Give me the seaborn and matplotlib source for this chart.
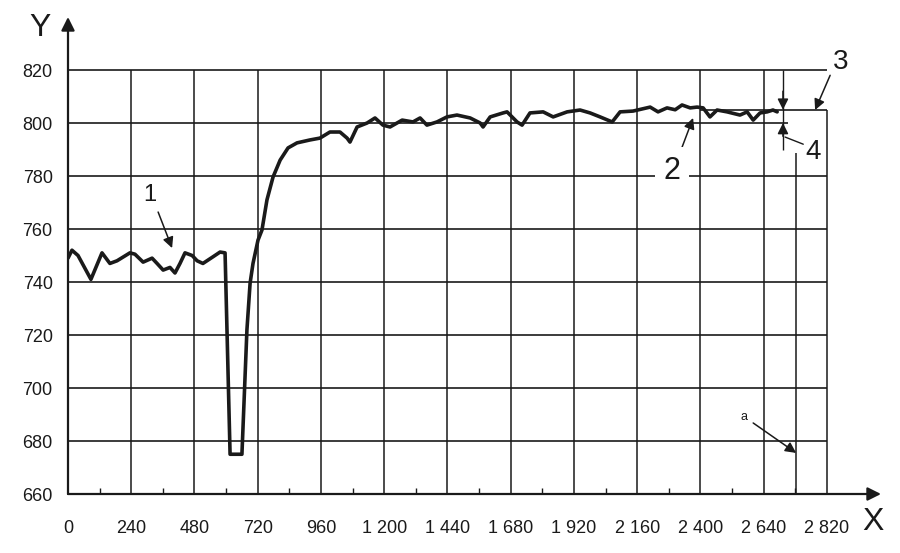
import numpy as np
import pandas as pd
import seaborn as sns
import matplotlib.pyplot as plt

# curve
x_vals = [0, 15, 38, 87, 129, 159, 186, 235, 254, 285, 319, 338, 361, 387, 406, 425,
          444, 471, 490, 512, 550, 577, 596,
          615, 660, 679, 691, 702, 721, 736, 755, 778, 805, 835, 869, 918, 956, 994,
          1032, 1059, 1070, 1097, 1135, 1165, 1195, 1222, 1268, 1309, 1336, 1362,
          1400, 1438, 1476, 1526, 1564, 1575, 1602, 1651, 1666, 1704, 1723, 1753,
          1803, 1841, 1894, 1943, 1981, 2019, 2065, 2095, 2144, 2209, 2239, 2273,
          2304, 2330, 2361, 2387, 2410, 2436, 2463, 2501, 2550, 2577, 2600, 2626,
          2653, 2675, 2691]
y_vals = [749, 752, 750, 741, 751, 747, 748, 751, 750.5, 747.5, 749, 747, 744.5,
          745.5, 743.4, 747, 751, 750, 748, 747, 749.5, 751.3, 751,
          675, 675, 722, 739.6, 747, 755.8, 759.6, 771, 779.6, 786, 790.6, 792.5,
          793.6, 794.3, 796.6, 796.6, 794.3, 792.8, 798.5, 800, 801.9, 799.2, 798.5,
          801.1, 800.4, 801.9, 799.2, 800.4, 802.3, 803, 801.9, 800, 798.5, 802.3,
          803.8, 804.2, 800.4, 799.2, 803.8, 804.2, 802.3, 804.2, 804.9, 803.8,
          802.3, 800.4, 804.2, 804.5, 806, 804.2, 805.7, 805, 806.8, 805.7, 806,
          805.7, 802.3, 804.9, 804.2, 803, 804.2, 801.1, 803.8, 804.2, 804.9, 804.2]

x_tick_pos = [0, 240, 480, 720, 960, 1200, 1440, 1680, 1920, 2160, 2400, 2640, 2880]
x_tick_labels = ["0", "240", "480", "720", "960", "1 200", "1 440", "1 680", "1 920",
                 "2 160", "2 400", "2 640", "2 820"]
y_ticks = [660, 680, 700, 720, 740, 760, 780, 800, 820]

line3_level = 805
a_line_x = 2763
dim_x = 2713

df = pd.DataFrame({"x": x_vals, "y": y_vals})

sns.set_theme(style="white")
plt.rcParams["font.family"] = ["Liberation Sans", "DejaVu Sans"]
ink = "#1a1a1a"

fig = plt.figure(figsize=(9, 5.53), dpi=100)
ax = fig.add_axes([68 / 900, 59 / 553, 813 / 900, 477 / 553])
ax.set_xlim(0, 3085)
ax.set_ylim(660, 840)

# grid
for yv in y_ticks[1:]:
    x_end = 2733 if yv == 800 else 2880
    ax.hlines(yv, 0, x_end, color=ink, lw=1.2, zorder=1)
ax.vlines(x_tick_pos[1:-1], 660, 820, color=ink, lw=1.1, zorder=1)
ax.vlines(x_tick_pos[-1], 660, line3_level, color=ink, lw=1.1, zorder=1)
ax.vlines(a_line_x, 660, 788.7, color=ink, lw=1.1, zorder=1)
ax.hlines(line3_level, 2400, 2880, color=ink, lw=1.2, zorder=1)
ax.vlines(dim_x, 790, 820, color=ink, lw=1.0, zorder=1)

sns.lineplot(data=df, x="x", y="y", color=ink, lw=2.6, ax=ax, zorder=3)

# axes with arrows
for s in ax.spines.values():
    s.set_visible(False)
arrow = dict(arrowstyle="-|>", color=ink, lw=1.6, mutation_scale=20, shrinkA=0, shrinkB=0)
ax.annotate("", xy=(1, 0), xytext=(0, 0), xycoords="axes fraction", arrowprops=arrow)
ax.annotate("", xy=(0, 1), xytext=(0, 0), xycoords="axes fraction", arrowprops=arrow)

ax.set_xticks(x_tick_pos, x_tick_labels)
ax.set_yticks(y_ticks)
ax.set_xticks(np.arange(60, 2881, 60), minor=True)
ax.set_yticks(np.arange(670, 820, 10), minor=True)
ax.tick_params(axis="both", which="major", length=0, labelsize=13, labelcolor=ink)
ax.tick_params(axis="x", which="major", pad=19)
ax.tick_params(axis="y", which="major", pad=11)
ax.tick_params(axis="both", which="minor", direction="in", length=3, width=1, color=ink)
ax.vlines(np.arange(120, 2881, 240), 0, 0.013, transform=ax.get_xaxis_transform(),
          color=ink, lw=1)
ax.set_xlabel("")
ax.set_ylabel("")

fig.text(40 / 900, 1 - 28 / 553, "Y", fontsize=23, color=ink, ha="center", va="center")
fig.text(873 / 900, 1 - 522 / 553, "X", fontsize=23, color=ink, ha="center", va="center")

# callouts
head = dict(arrowstyle="-|>", color=ink, lw=1.1, mutation_scale=16, shrinkA=0, shrinkB=0)
ax.annotate("", xy=(395, 752.8), xytext=(342, 766.4), arrowprops=head)
ax.text(311, 773, "1", fontsize=17, color=ink, ha="center", va="center")
ax.annotate("", xy=(2372, 801.9), xytext=(2323, 789), arrowprops=head)
ax.text(2292, 782, "2", fontsize=22, color=ink, ha="center", va="center",
        bbox=dict(fc="white", ec="none", pad=6))
ax.annotate("", xy=(2835, 804.9), xytext=(2892, 818), arrowprops=head, annotation_clip=False)
ax.text(2930, 823, "3", fontsize=20, color=ink, ha="center", va="center")
ax.annotate("", xy=(dim_x, line3_level), xytext=(dim_x, 812), arrowprops=head)
ax.annotate("", xy=(dim_x, 800), xytext=(dim_x, 795), arrowprops=head)
ax.plot([2721, 2790], [794.7, 792], color=ink, lw=1)
ax.text(2826, 789, "4", fontsize=20, color=ink, ha="center", va="center")
ax.annotate("", xy=(a_line_x, 675.5), xytext=(2600, 686.8), arrowprops=head)
ax.text(2566, 689, "a", fontsize=9, color=ink, ha="center", va="center")

fig.savefig("out.png", dpi=100)
